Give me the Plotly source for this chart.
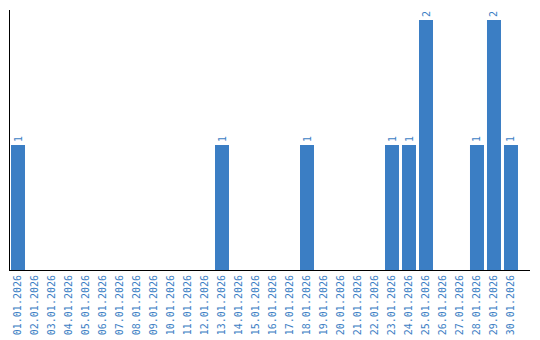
import plotly.graph_objects as go

dates = [f"{d:02d}.01.2026" for d in range(1, 31)]
values = [1, 0, 0, 0, 0, 0, 0, 0, 0, 0, 0, 0, 1, 0, 0, 0, 0, 1, 0, 0,
          0, 0, 1, 1, 2, 0, 0, 1, 2, 1]

blue = "#3b7ec4"
mono = "DejaVu Sans Mono"
idx = list(range(len(dates)))
texts = [str(v) if v > 0 else "" for v in values]

fig = go.Figure(go.Bar(
    x=idx, y=values, width=14/17, marker=dict(color=blue, line=dict(width=0)),
    text=texts, textposition="outside", textangle=-90, cliponaxis=False,
    textfont=dict(family=mono, size=10, color=blue),
))
fig.update_layout(
    template="none",
    width=540, height=340, margin=dict(l=10, r=10, t=10, b=70, autoexpand=False),
    paper_bgcolor="white", plot_bgcolor="white", showlegend=False,
    font=dict(family=mono, size=10, color=blue),
    uniformtext=dict(minsize=10, mode="show"),
)
fig.update_xaxes(range=[-8/17, 30.118], tickmode="array", tickvals=idx, ticktext=dates,
                 tickangle=-90, showgrid=False, zeroline=False, showline=True,
                 linecolor="black", linewidth=1, ticks="", automargin=False,
                 tickfont=dict(family=mono, size=10, color=blue))
fig.update_yaxes(range=[0, 2.08], showticklabels=False, showgrid=False, zeroline=False,
                 showline=True, linecolor="black", linewidth=1, ticks="", automargin=False)
fig.write_html("out.html")
